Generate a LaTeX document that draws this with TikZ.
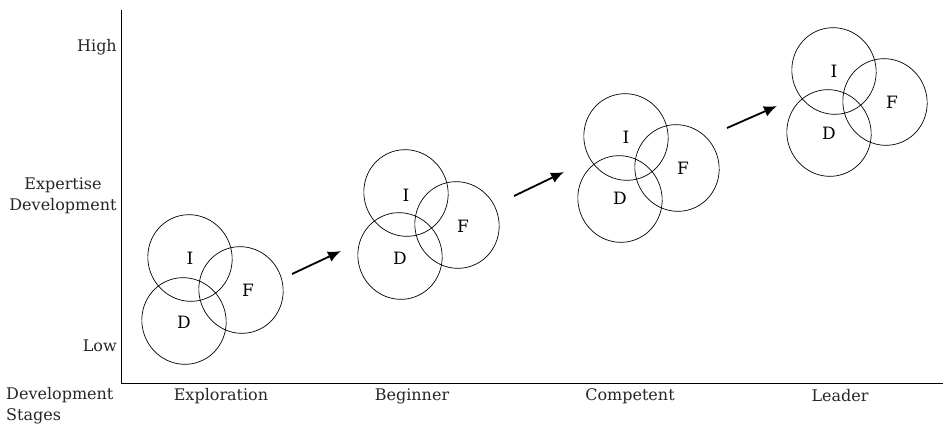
\documentclass[tikz,border=0pt]{standalone}
\usepackage{fontspec}
\setmainfont{DejaVu Serif}
\usetikzlibrary{shapes.geometric,arrows.meta}
\begin{document}
\begin{tikzpicture}[x=1pt,y=-1pt,
  ring/.style={draw,ellipse,line width=0.7pt,minimum width=84pt,minimum height=87pt,inner sep=0pt},
  lbl/.style={font=\fontsize{17}{19}\selectfont,inner sep=0pt},
  axtxt/.style={font=\fontsize{16}{21}\selectfont,inner sep=0pt,text=black!85},
  stagearrow/.style={line width=1.8pt,-{Latex[length=13pt,width=11pt]}}]
\useasboundingbox (0,0) rectangle (943,426);
% axes
\coordinate (top) at (121,10);
\coordinate (origin) at (121,383);
\coordinate (right) at (943,383);
\draw[line width=0.9pt] (top) -- (origin) -- (right);
% axis texts
\node[axtxt,anchor=east] (high) at (117,47) {High};
\node[axtxt,align=center] (exp) at (63,196) {Expertise\\Development};
\node[axtxt,anchor=east] (low) at (117,346) {Low};
\node[axtxt,anchor=west,align=left] (stages) at (6,406) {Development\\Stages};
\node[axtxt] (s1) at (221,396) {Exploration};
\node[axtxt] (s2) at (412,396) {Beginner};
\node[axtxt] (s3) at (630,396) {Competent};
\node[axtxt] (s4) at (840,396) {Leader};
% cluster 1
\node[ring,rotate=20] (i1) at (190,258) {};
\node[ring,rotate=20] (d1) at (184,321) {};
\node[ring,rotate=20] (f1) at (241,290) {};
\node[lbl] at (190,258) {I};
\node[lbl] at (248,290) {F};
\node[lbl] at (184,322) {D};
% cluster 2
\node[ring,rotate=20] (i2) at (406,193) {};
\node[ring,rotate=20] (d2) at (400,256) {};
\node[ring,rotate=20] (f2) at (457,225) {};
\node[lbl] at (406,195) {I};
\node[lbl] at (463,226) {F};
\node[lbl] at (400,258) {D};
% cluster 3
\node[ring,rotate=20] (i3) at (626,137) {};
\node[ring,rotate=20] (d3) at (620,199) {};
\node[ring,rotate=20] (f3) at (677,168) {};
\node[lbl] at (626,137) {I};
\node[lbl] at (683,168) {F};
\node[lbl] at (620,198) {D};
% cluster 4
\node[ring,rotate=20] (i4) at (834,71) {};
\node[ring,rotate=20] (d4) at (829,133) {};
\node[ring,rotate=20] (f4) at (885,102) {};
\node[lbl] at (834,71) {I};
\node[lbl] at (892,102) {F};
\node[lbl] at (829,133) {D};
% arrows
\coordinate (a1s) at (292,274); \coordinate (a1e) at (341,251);
\coordinate (a2s) at (514,196); \coordinate (a2e) at (564,172);
\coordinate (a3s) at (727,128); \coordinate (a3e) at (777,106);
\draw[stagearrow] (a1s) -- (a1e);
\draw[stagearrow] (a2s) -- (a2e);
\draw[stagearrow] (a3s) -- (a3e);
\end{tikzpicture}
\end{document}
